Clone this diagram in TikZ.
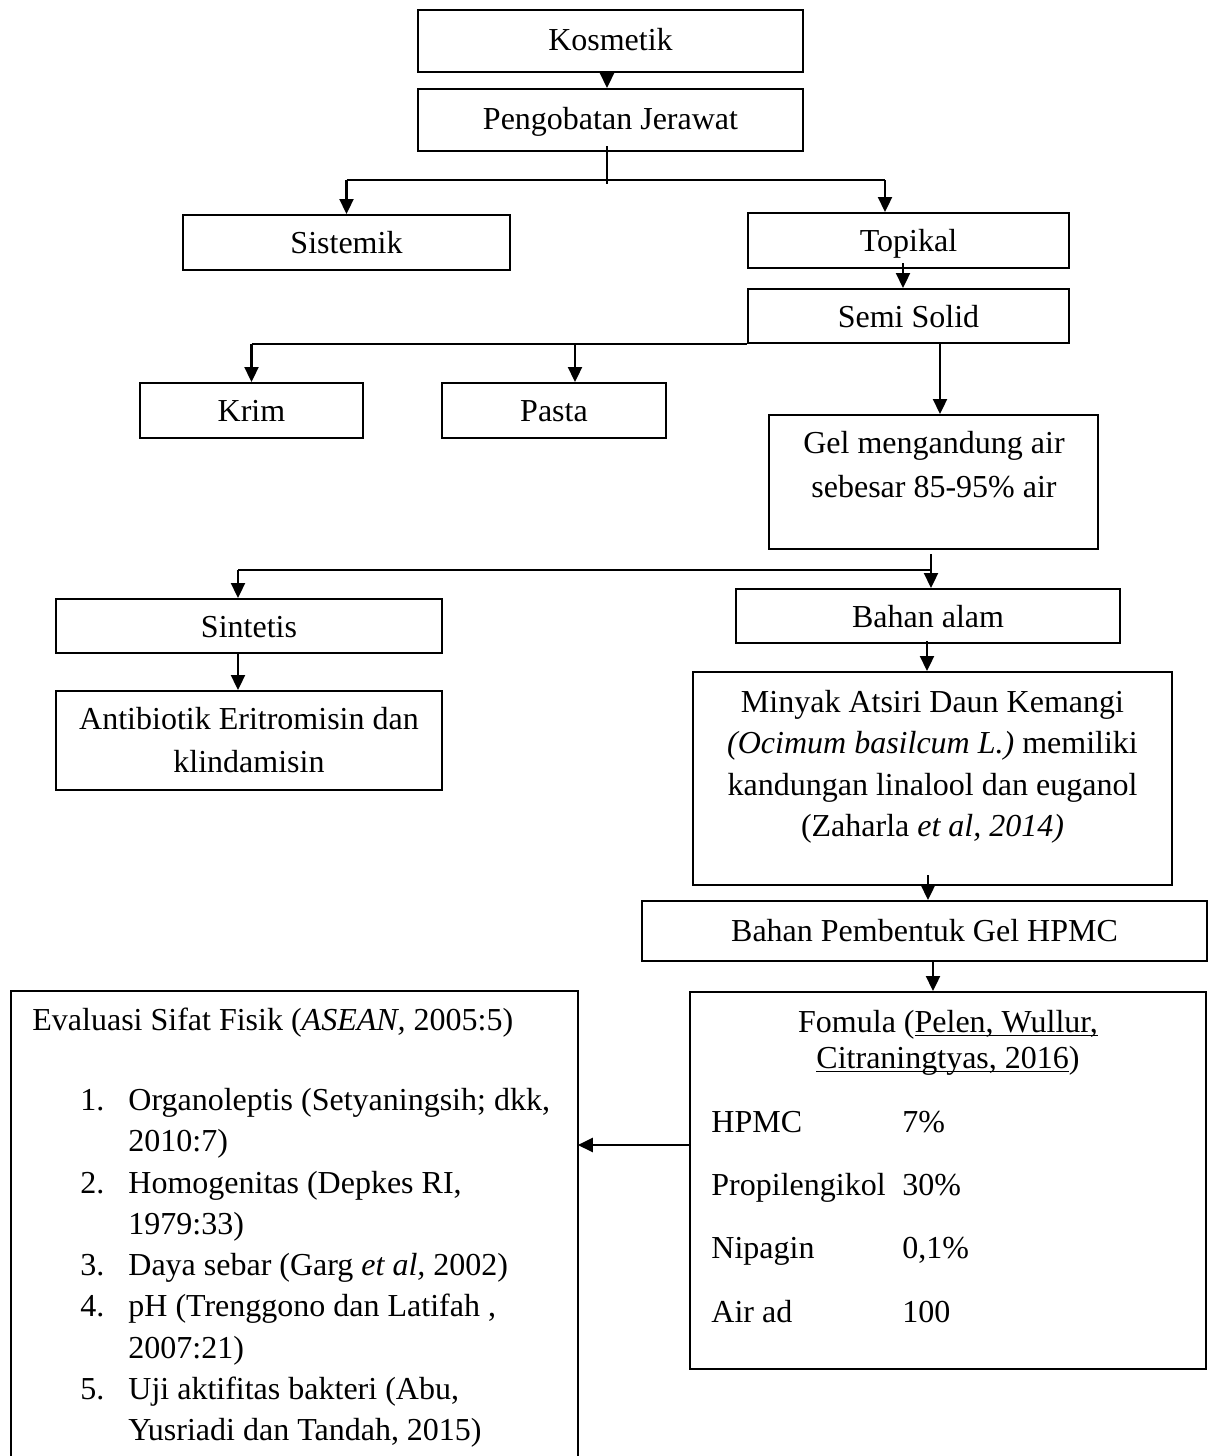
\documentclass[tikz,border=0pt]{standalone}
\usepackage{fontspec}
\setmainfont{Liberation Serif}
\usetikzlibrary{arrows.meta,calc}
\newsavebox\ulbox
\newcommand\ulx[1]{\sbox\ulbox{#1}\rlap{\rule[-2pt]{\wd\ulbox}{0.75pt}}\usebox\ulbox}
\begin{document}
\begin{tikzpicture}[x=0.5pt,y=-0.5pt,
  bx/.style n args={2}{draw, line width=1pt, inner sep=0pt, minimum width=#1pt, minimum height=#2pt, font=\fontsize{16pt}{21.5pt}\selectfont, align=center},
  one/.style={text height=14.5pt, text depth=3.5pt},
  txt/.style={font=\fontsize{16pt}{21.5pt}\selectfont, inner sep=0pt, anchor=base},
  txtl/.style={txt, anchor=base west},
  ln/.style={line width=1.15pt},
  arr/.style={line width=1.15pt, -{Triangle[length=7.5pt,width=7pt]}}]
\useasboundingbox (0,0) rectangle (1208,1456);
\fill[white] (0,0) rectangle (1208,1456);

% boxes
\node[bx={192.5}{31}, text height=13pt, text depth=4pt] (kos) at (610.5,41) {Kosmetik};
\node[bx={192.5}{31}, text height=13pt, text depth=4pt] (peng) at (610.5,120) {Pengobatan Jerawat};
\node[bx={163.5}{27.5}, one] (sis) at (346.5,242.5) {Sistemik};
\node[bx={160.5}{27.5}, one] (top) at (908.5,240.5) {Topikal};
\node[bx={160.5}{27}, one] (semi) at (908.5,316) {Semi Solid};
\node[bx={111.5}{27.5}, one] (krim) at (251.5,410.5) {Krim};
\node[bx={112}{27.5}, one] (pasta) at (554,410.5) {Pasta};
\node[bx={164.5}{67}] (gel) at (933.5,482) {};
\node[txt] (gel1) at (934,453) {Gel mengandung air};
\node[txt] (gel2) at (934,497) {sebesar 85-95\% air};
\node[bx={193}{27}, one] (sin) at (249,626) {Sintetis};
\node[bx={193}{49.5}] (anti) at (249,740.5) {Antibiotik Eritromisin dan\\klindamisin};
\node[bx={192}{27}, one] (alam) at (928,616) {Bahan alam};
\node[bx={239.5}{106.5}] (miny) at (932.5,778.5) {};
\node[txt] (m1) at (932.5,712) {Minyak Atsiri Daun Kemangi};
\node[txt] (m2) at (932.5,753.5) {\textit{(Ocimum basilcum L.)} memiliki};
\node[txt] (m3) at (932.5,795) {kandungan linalool dan euganol};
\node[txt] (m4) at (932.5,836.5) {(Zaharla \textit{et al, 2014)}};
\node[bx={282.5}{30}, text height=14pt, text depth=4pt] (bpg) at (924.5,931) {Bahan Pembentuk Gel HPMC};
\node[bx={258}{188.5}] (fom) at (948,1180.5) {};
\node[txt] (f1) at (948,1032) {Fomula (\ulx{Pelen, Wullur,}};
\node[txt] (f2) at (948,1068) {\ulx{Citraningtyas, 2016})};
\node[txtl] (r1a) at (711,1132) {HPMC};
\node[txtl] (r1b) at (902,1132) {7\%};
\node[txtl] (r2a) at (711,1195) {Propilengikol};
\node[txtl] (r2b) at (902,1195) {30\%};
\node[txtl] (r3a) at (711,1258) {Nipagin};
\node[txtl] (r3b) at (902,1258) {0,1\%};
\node[txtl] (r4a) at (711,1322) {Air ad};
\node[txtl] (r4b) at (902,1322) {100};

% evaluation box (open at the bottom edge of the picture)
\node[inner sep=0pt, minimum width=283pt, minimum height=232.5pt, anchor=north west] (eval) at (11,991) {};
\draw[line width=1pt] (eval.south west) -- (eval.north west) -- (eval.north east) -- (eval.south east);
\node[txtl] (e0) at (32,1030) {Evaluasi Sifat Fisik (\textit{ASEAN,} 2005:5)};
\node[txtl] (n1) at (80,1110) {1.};
\node[txtl] (e1) at (128,1110) {Organoleptis (Setyaningsih; dkk,};
\node[txtl] (e1b) at (128,1151) {2010:7)};
\node[txtl] (n2) at (80,1193) {2.};
\node[txtl] (e2) at (128,1193) {Homogenitas (Depkes RI,};
\node[txtl] (e2b) at (128,1234) {1979:33)};
\node[txtl] (n3) at (80,1275) {3.};
\node[txtl] (e3) at (128,1275) {Daya sebar (Garg \textit{et al,} 2002)};
\node[txtl] (n4) at (80,1316) {4.};
\node[txtl] (e4) at (128,1316) {pH (Trenggono dan Latifah ,};
\node[txtl] (e4b) at (128,1358) {2007:21)};
\node[txtl] (n5) at (80,1399) {5.};
\node[txtl] (e5) at (128,1399) {Uji aktifitas bakteri (Abu,};
\node[txtl] (e5b) at (128,1440) {Yusriadi dan Tandah, 2015)};

% connectors
\draw[arr] ($(kos.south)+(-3.5,0)$) -- ($(peng.north)+(-3.5,0)$);
\coordinate (pS) at ($(peng.south)+(-3.5,-6)$);
\draw[ln] (pS) -- ($(pS)+(0,38)$);
\coordinate (jSis) at (sis.north |- 0,180);
\coordinate (jTop) at (885,180);
\draw[ln] (jSis) -- (jTop);
\draw[arr] (jSis) -- (sis.north);
\draw[arr] (jTop) -- (jTop |- top.north);
\coordinate (tS) at ($(top.south)+(-5.5,-6)$);
\draw[arr] (tS) -- (tS |- semi.north);
\coordinate (jKrim) at (krim.north |- semi.south);
\coordinate (jPasta) at (575,343);
\draw[ln] (jKrim) -- (semi.south west);
\draw[arr] (jKrim) -- (krim.north);
\draw[arr] (jPasta) -- (jPasta |- pasta.north);
\coordinate (sG) at ($(semi.south)+(31.5,0)$);
\draw[arr] (sG) -- (sG |- gel.north);
\coordinate (gA) at ($(gel.south)+(-2.5,4)$);
\draw[arr] (gA) -- (gA |- alam.north);
\coordinate (jSin) at (238,570);
\draw[ln] (jSin) -- (gA |- jSin);
\draw[arr] (jSin) -- (jSin |- sin.north);
\draw[arr] (jSin |- sin.south) -- (jSin |- anti.north);
\coordinate (aS) at ($(alam.south)+(-1,-3)$);
\draw[arr] (aS) -- (aS |- miny.north);
\coordinate (mA) at (928,875);
\draw[arr] (mA) -- (mA |- bpg.north);
\coordinate (bA) at (933,961);
\draw[arr] (bA) -- (bA |- fom.north);
\coordinate (fA) at (fom.west |- 0,1145);
\draw[arr] (fA) -- (fA -| eval.east);
\end{tikzpicture}
\end{document}
